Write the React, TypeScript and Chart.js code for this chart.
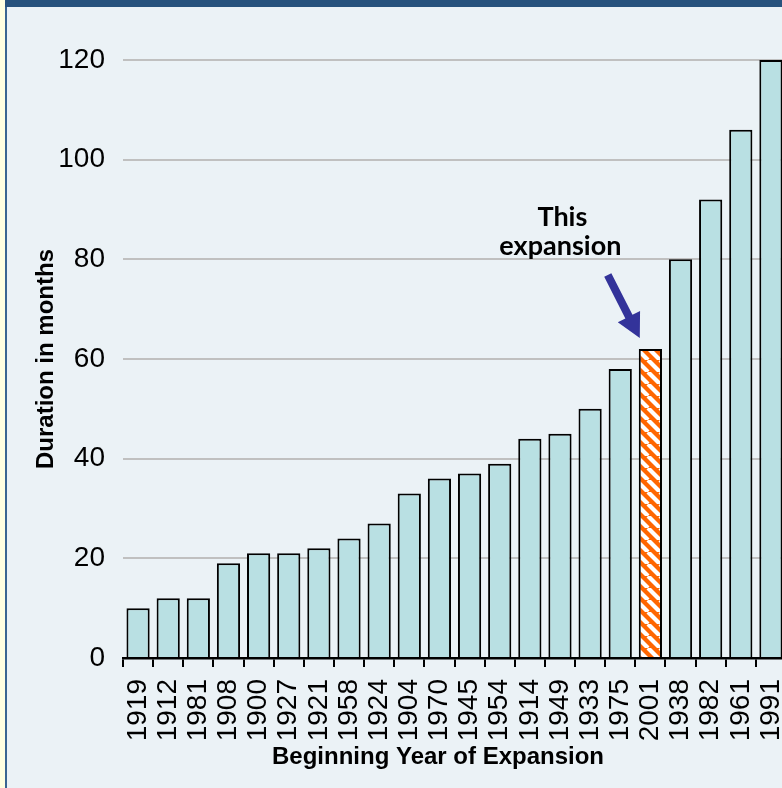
import React, { useEffect, useRef } from 'react';
import { Chart, registerables } from 'chart.js';

Chart.register(...registerables);

const categories = ['1919', '1912', '1981', '1908', '1900', '1927', '1921', '1958', '1924', '1904', '1970', '1945', '1954', '1914', '1949', '1933', '1975', '2001', '1938', '1982', '1961', '1991'];
const durations = [10, 12, 12, 19, 21, 21, 22, 24, 27, 33, 36, 37, 39, 44, 45, 50, 58, 62, 80, 92, 106, 120];
const yTicks = [0, 20, 40, 60, 80, 100, 120];
const highlightYear = '2001';
const annotationLines = ['This', 'expansion'];
const xTitle = 'Beginning Year of Expansion';
const yTitle = 'Duration in months';

const FONT = '"Liberation Sans", Arial, Helvetica, sans-serif';
const BAR_FILL = '#B9E0E3';
const BG = '#EBF2F6';

function makeHatch(ctx: CanvasRenderingContext2D) {
  const n = 12;
  const c = document.createElement('canvas');
  c.width = n;
  c.height = n;
  const g = c.getContext('2d')!;
  g.fillStyle = '#FF6600';
  g.fillRect(0, 0, n, n);
  g.strokeStyle = '#FFFFFF';
  g.lineWidth = 4.2;
  for (const k of [-n, 0, n]) {
    g.beginPath();
    g.moveTo(k, 0);
    g.lineTo(k + n, n);
    g.stroke();
  }
  return ctx.createPattern(c, 'repeat') as CanvasPattern;
}

const titlesPlugin = {
  id: 'axisTitles',
  afterDraw(chart: any) {
    const { ctx, chartArea } = chart;
    ctx.save();
    ctx.fillStyle = '#000';
    ctx.font = `bold 24px ${FONT}`;
    ctx.textAlign = 'center';
    ctx.textBaseline = 'alphabetic';
    ctx.fillText(xTitle, 438, 764);
    ctx.translate(53, (chartArea.top + chartArea.bottom) / 2);
    ctx.rotate(-Math.PI / 2);
    ctx.fillText(yTitle, 0, 0);
    ctx.restore();
  },
};

const annotationPlugin = {
  id: 'expansionNote',
  afterDatasetsDraw(chart: any) {
    const { ctx } = chart;
    const idx = categories.indexOf(highlightYear);
    const el = chart.getDatasetMeta(0).data[idx];
    if (!el) return;
    const { x, y, width } = el.getProps(['x', 'y', 'width'], true);
    const left = x - width / 2;
    ctx.save();
    ctx.fillStyle = '#000';
    ctx.font = `bold 27px Lato, "Open Sans", sans-serif`;
    ctx.textAlign = 'center';
    ctx.textBaseline = 'alphabetic';
    ctx.fillText(annotationLines[0], x - 88, y - 123);
    ctx.fillText(annotationLines[1], x - 90, y - 94);

    // arrow
    const sx = left - 31, sy = y - 74;
    const tx = left + 1, ty = y - 11;
    const ang = Math.atan2(ty - sy, tx - sx);
    const len = Math.hypot(tx - sx, ty - sy);
    const headLen = 24, headHalf = 12.5, shaftHalf = 4;
    ctx.translate(sx, sy);
    ctx.rotate(ang);
    ctx.fillStyle = '#33339A';
    ctx.beginPath();
    ctx.moveTo(0, -shaftHalf);
    ctx.lineTo(len - headLen, -shaftHalf);
    ctx.lineTo(len - headLen, -headHalf);
    ctx.lineTo(len, 0);
    ctx.lineTo(len - headLen, headHalf);
    ctx.lineTo(len - headLen, shaftHalf);
    ctx.lineTo(0, shaftHalf);
    ctx.closePath();
    ctx.fill();
    ctx.restore();
  },
};

export default function App() {
  const ref = useRef<HTMLCanvasElement>(null);

  useEffect(() => {
    const canvas = ref.current!;
    const ctx = canvas.getContext('2d')!;
    const hatch = makeHatch(ctx);
    const chart = new Chart(canvas, {
      type: 'bar',
      data: {
        labels: categories,
        datasets: [
          {
            data: durations,
            backgroundColor: categories.map((c) => (c === highlightYear ? hatch : BAR_FILL)),
            borderColor: '#000',
            borderWidth: 2,
            barPercentage: 0.77,
            categoryPercentage: 1,
          },
        ],
      },
      options: {
        animation: false,
        responsive: false,
        devicePixelRatio: 1,
        layout: { padding: { top: 60, left: 0, right: 0, bottom: 0 } },
        plugins: {
          legend: { display: false },
          tooltip: { enabled: false },
          title: { display: false },
        },
        scales: {
          x: {
            offset: true,
            grid: {
              display: true,
              drawOnChartArea: false,
              drawTicks: true,
              tickLength: 9,
              color: '#000',
              lineWidth: 2,
              offset: true,
            },
            border: { display: true, color: '#000', width: 2.5 },
            ticks: {
              font: { family: FONT, size: 28 },
              color: '#000',
              minRotation: 90,
              maxRotation: 90,
              autoSkip: false,
              padding: 12,
            },
            afterFit: (s: any) => {
              s.height = 130;
              s.paddingLeft = 0;
              s.paddingRight = 0;
            },
          },
          y: {
            min: 0,
            max: 120,
            afterBuildTicks: (s: any) => {
              s.ticks = yTicks.map((v) => ({ value: v }));
            },
            grid: { color: '#C0C0C0', lineWidth: 2, drawTicks: false },
            border: { display: false },
            ticks: {
              font: { family: FONT, size: 28 },
              color: '#000',
              padding: 18,
            },
            afterFit: (s: any) => {
              s.width = 123;
            },
          },
        },
      },
      plugins: [titlesPlugin, annotationPlugin],
    });
    return () => chart.destroy();
  }, []);

  return (
    <div
      style={{
        position: 'fixed',
        left: 0,
        top: 0,
        width: 782,
        height: 788,
        overflow: 'hidden',
        background: BG,
      }}
    >
      <canvas ref={ref} width={786} height={788} style={{ position: 'absolute', left: 0, top: 0, width: 786, height: 788 }} />
      <div style={{ position: 'absolute', left: 0, top: 0, width: 5, height: 788, background: '#FFFFE1' }} />
      <div style={{ position: 'absolute', left: 5, top: 0, width: 2, height: 788, background: '#3A6592' }} />
      <div style={{ position: 'absolute', left: 5, top: 0, width: 777, height: 7, background: '#27527D' }} />
    </div>
  );
}
